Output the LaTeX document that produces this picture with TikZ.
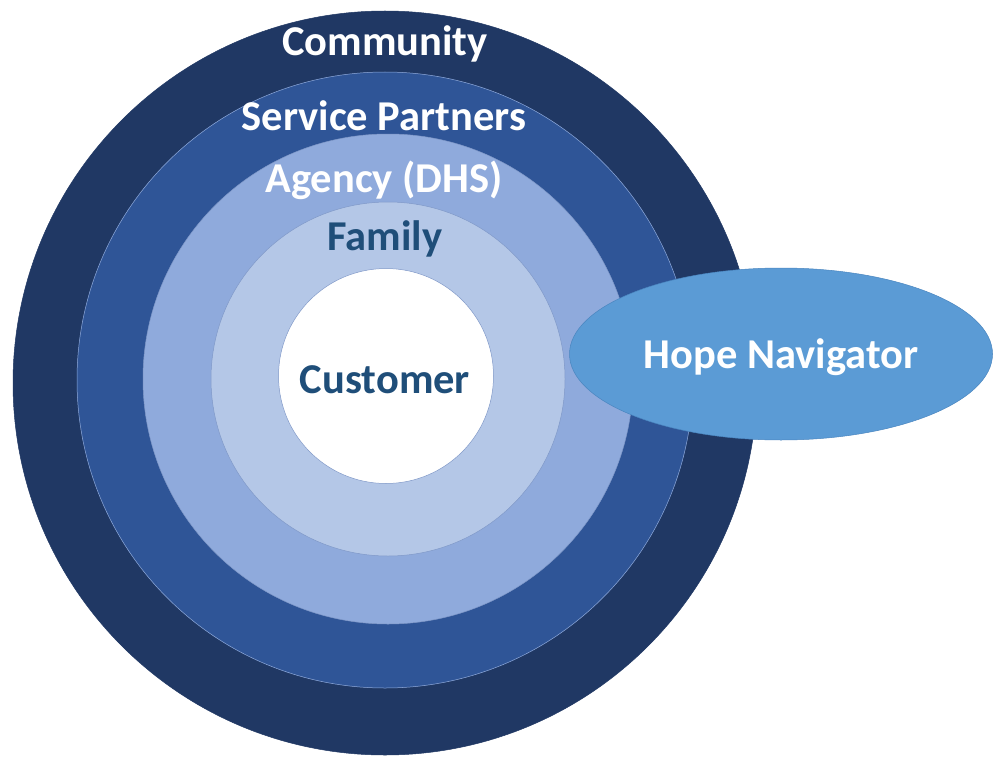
\documentclass[tikz,border=0pt]{standalone}
\usepackage{fontspec}
\setmainfont{Carlito}
\usetikzlibrary{shapes.geometric}
\definecolor{cCommunity}{HTML}{203864}
\definecolor{cService}{HTML}{2F5597}
\definecolor{cAgency}{HTML}{8FAADC}
\definecolor{cFamily}{HTML}{B4C7E7}
\definecolor{cHope}{HTML}{5B9BD5}
\definecolor{cHopeLine}{HTML}{4A86C0}
\definecolor{cRing}{HTML}{7F98C8}
\definecolor{cDarkText}{HTML}{1F4E79}
\tikzset{
  ring/.style={circle, inner sep=0pt, draw=cRing, line width=0.5pt},
  lbl/.style={font=\fontsize{42.5}{42.5}\selectfont\bfseries, anchor=base, inner sep=0pt},
}
\begin{document}
\begin{tikzpicture}[x=1pt, y=-1pt]
\useasboundingbox[fill=white] (0,0) rectangle (1003,757);
\node[ring, fill=cCommunity, draw=cCommunity, minimum size=744pt] (community) at (385,383) {};
\node[ring, fill=cService, draw=cAgency, minimum size=616pt] (service) at (385,380) {};
\node[ring, fill=cAgency, draw=cRing, minimum size=490pt] (agency) at (388,379) {};
\node[ring, fill=cFamily, draw=cRing, minimum size=354pt] (family) at (388,379) {};
\node[ring, fill=white, draw=cRing, minimum size=215pt] (customer) at (386,376) {};
\node[ellipse, fill=cHope, draw=cHopeLine, line width=0.5pt, inner sep=0pt,
      minimum width=423pt, minimum height=172pt] (hope) at (781,354) {};
\node[lbl, text=white] (tCommunity) at (385,56) {Community};
\node[lbl, text=white] (tService) at (384,130) {Service Partners};
\node[lbl, text=white] (tAgency) at (384,192) {Agency (DHS)};
\node[lbl, text=cDarkText] (tFamily) at (385,250) {Family};
\node[lbl, text=cDarkText] (tCustomer) at (385,393) {Customer};
\node[lbl, text=white] (tHope) at (781,368) {Hope Navigator};
\end{tikzpicture}
\end{document}
